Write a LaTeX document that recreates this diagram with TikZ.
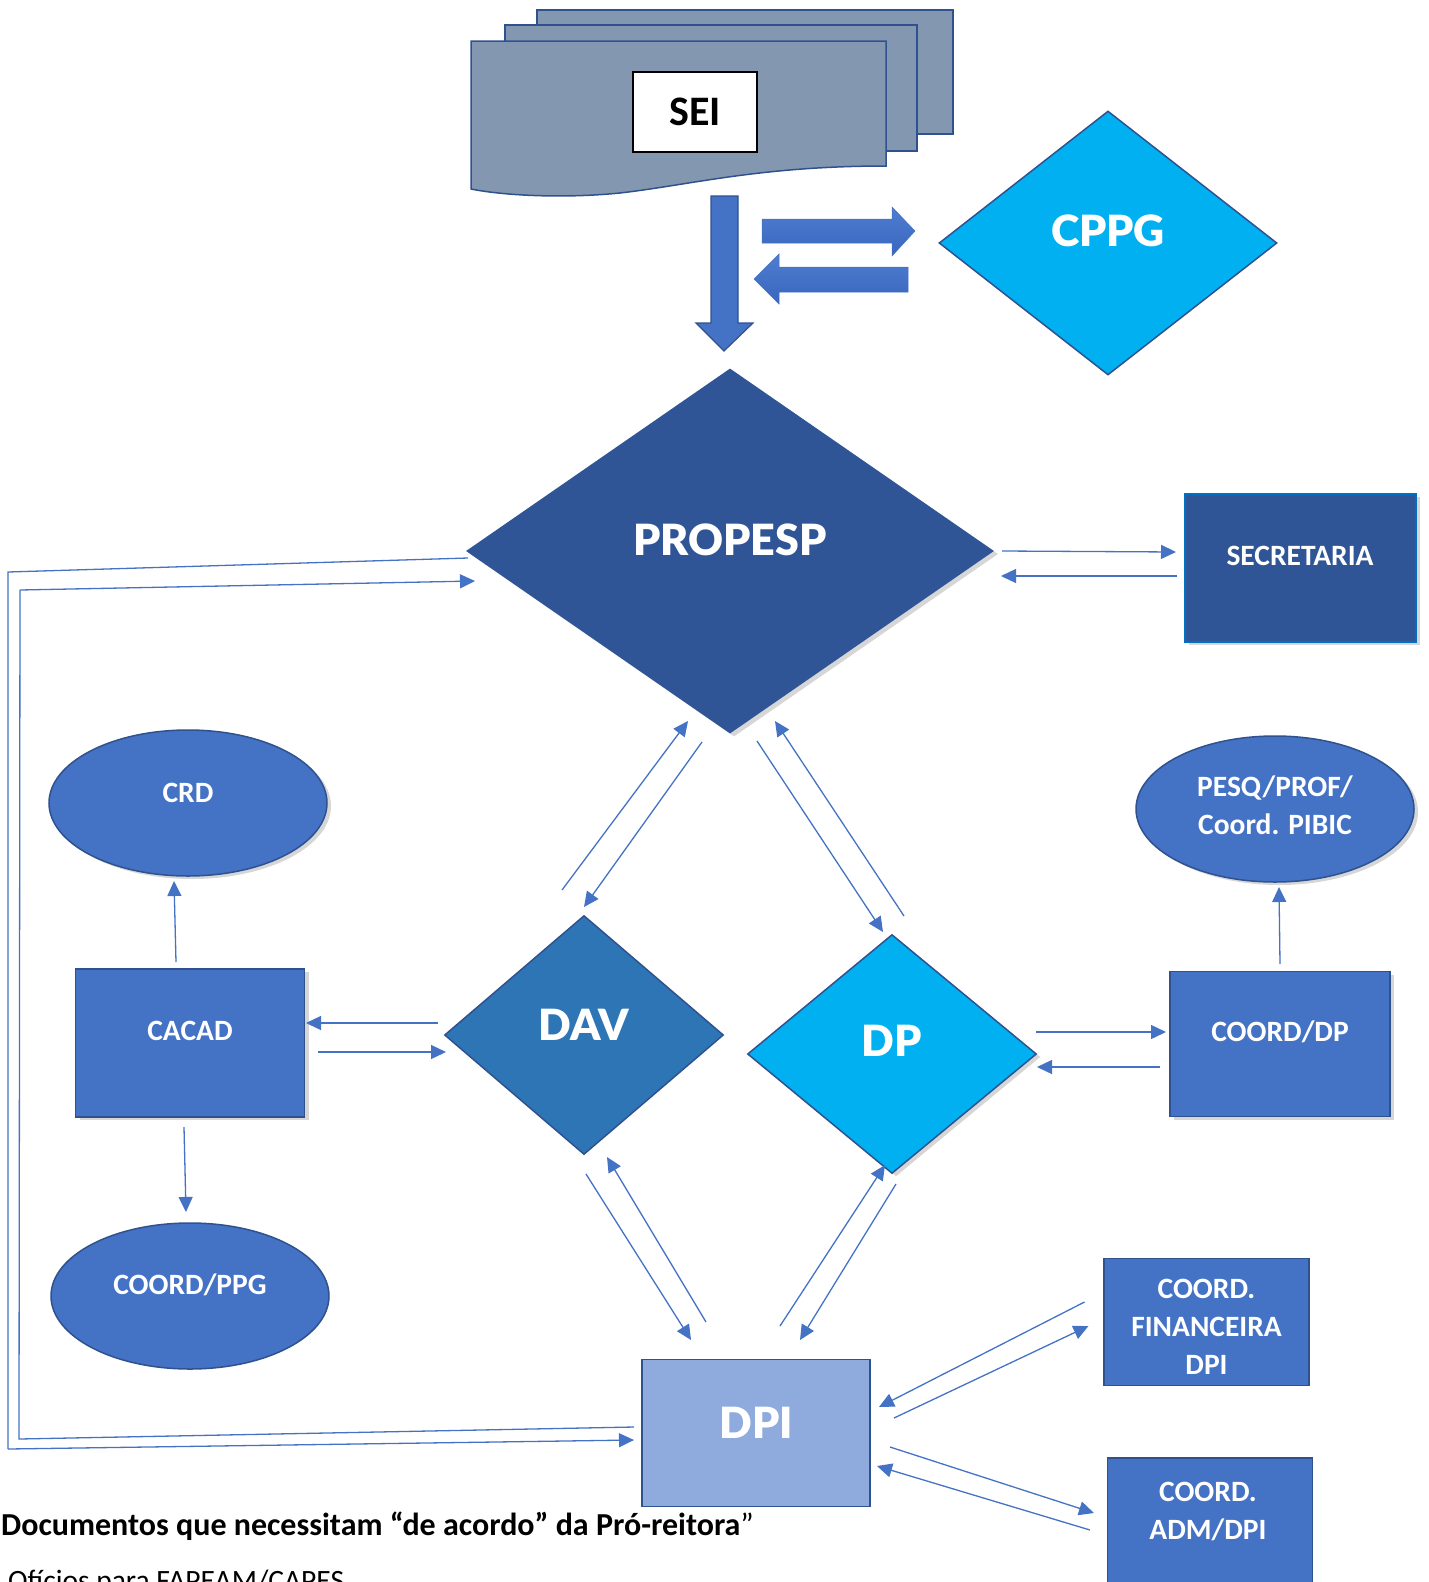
\documentclass[tikz,border=0pt]{standalone}
\usepackage{fontspec}
\setmainfont{Carlito}
\IfFontExistsTF{FiraSans-Heavy.otf}{\newfontfamily\heavyfont{FiraSans-Heavy.otf}}{%
  \IfFontExistsTF{FiraSans-ExtraBold.otf}{\newfontfamily\heavyfont{FiraSans-ExtraBold.otf}}{%
    \IfFontExistsTF{Lato Black}{\newfontfamily\heavyfont{Lato Black}}{%
      \newfontfamily\heavyfont{Fira Sans}[UprightFont=* Bold]}}}
\usetikzlibrary{shapes.geometric,arrows.meta,shadows,calc}
\definecolor{accent}{HTML}{4472C4}
\definecolor{bordblue}{HTML}{2F528F}
\definecolor{propblue}{HTML}{2F5597}
\definecolor{cyanb}{HTML}{00B0F0}
\definecolor{davblue}{HTML}{2E75B6}
\definecolor{dpiblue}{HTML}{8FAADC}
\definecolor{brightblue}{HTML}{0070C0}
\definecolor{pagegrey}{HTML}{8497B0}
\definecolor{arrtop}{HTML}{4D7DD0}
\definecolor{arrbot}{HTML}{3A66BE}
\begin{document}
\begin{tikzpicture}[x=1pt,y=-1pt,
  lbl/.style={text=white, font=\fontsize{29.5}{38}\selectfont\bfseries, align=center, inner sep=0pt},
  hv/.style={text=white, font=\fontsize{43}{48}\selectfont\heavyfont, inner sep=0pt},
  shad/.style={drop shadow={shadow xshift=4pt,shadow yshift=-3pt,opacity=.16,fill=black}},
  boxnode/.style={rectangle, fill=accent, draw=bordblue, line width=1.5pt, inner sep=0pt},
  ellnode/.style={ellipse, fill=accent, draw=bordblue, line width=1.5pt, inner sep=0pt, minimum width=278pt, minimum height=146pt},
  dia/.style={diamond, inner sep=0pt},
  conn/.style={draw=accent, line width=1.3pt, -{Triangle[length=15pt,width=14pt]}},
  plainline/.style={draw=accent, line width=1.3pt},
  pagestyle/.style={fill=pagegrey, draw=bordblue, line width=1.5pt},
  blockarrow/.style={top color=arrtop, bottom color=arrbot, draw=accent, line width=0.5pt}
]
\useasboundingbox (0,0) rectangle (1429,1582);

% ---------- SEI document stack ----------
\draw[pagestyle] (537,10) rectangle (953,134);
\draw[pagestyle] (505,25) rectangle (917,151);
\draw[pagestyle] (471,41) -- (886,41) -- (886,166)
   .. controls (760,166) and (690,185) .. (620,193)
   .. controls (560,199) and (500,195) .. (471,189) -- cycle;
\node[draw=black, fill=white, line width=1.2pt, minimum width=124pt, minimum height=80pt, inner sep=0pt,
      font=\fontsize{42}{46}\selectfont\bfseries] (sei) at (695,112) {SEI};

% ---------- block arrows ----------
\draw[fill=accent, draw=bordblue, line width=1.2pt] (711,196) -- (738,196) -- (738,323) -- (753,323) -- (724,351) -- (696,323) -- (711,323) -- cycle;
\draw[blockarrow] (762,219) -- (892,219) -- (892,207) -- (915,231) -- (892,256) -- (892,243) -- (762,243) -- cycle;
\draw[blockarrow] (908,267) -- (779,267) -- (779,254) -- (754,279) -- (779,304) -- (779,292) -- (908,292) -- cycle;

% ---------- nodes ----------
\node[dia, fill=cyanb, draw=bordblue, line width=1.5pt, minimum width=338pt, minimum height=264pt,
      label={[hv,yshift=12pt]center:CPPG}] (cppg) at (1108,243) {};
\node[dia, fill=propblue, minimum width=528pt, minimum height=365pt, shad,
      label={[hv,yshift=11pt]center:PROPESP}] (propesp) at (730,551) {};
\node[rectangle, fill=propblue, draw=brightblue, line width=2pt, minimum width=231pt, minimum height=148pt, shad,
      label={[lbl,yshift=12pt]center:SECRETARIA}] (secretaria) at (1300,568) {};
\node[ellnode, shad, label={[lbl,yshift=10pt]center:CRD}] (crd) at (188,803) {};
\node[ellnode, shad, label={[lbl,yshift=4pt]center:PESQ/PROF/\\Coord. PIBIC}] (pesq) at (1275,809) {};
\node[boxnode, shad, minimum width=229pt, minimum height=148pt,
      label={[lbl,yshift=12pt]center:CACAD}] (cacad) at (190,1043) {};
\node[ellnode, label={[lbl,yshift=11pt]center:COORD/PPG}] (coordppg) at (190,1296) {};
\node[dia, fill=davblue, draw=bordblue, line width=1.5pt, minimum width=279pt, minimum height=239pt,
      label={[hv,yshift=10pt]center:DAV}] (dav) at (584,1035) {};
\node[dia, fill=cyanb, draw=bordblue, line width=1.5pt, minimum width=289pt, minimum height=239pt, shad,
      label={[hv,yshift=13pt]center:DP}] (dp) at (892,1054) {};
\node[boxnode, shad, minimum width=220pt, minimum height=145pt,
      label={[lbl,yshift=12pt]center:COORD/DP}] (coorddp) at (1280,1044) {};
\node[boxnode, fill=dpiblue, minimum width=228pt, minimum height=147pt,
      label={[hv,yshift=10pt]center:DPI}] (dpi) at (756,1433) {};
\node[boxnode, minimum width=205pt, minimum height=127pt,
      label={[lbl,yshift=-5pt]center:COORD.\\FINANCEIRA\\DPI}] (fin) at (1206.5,1322) {};
\node[boxnode, minimum width=205pt, minimum height=142pt,
      label={[lbl,xshift=-2pt,yshift=18pt]center:COORD.\\ADM/DPI}] (adm) at (1210,1529) {};

% ---------- connectors ----------
\draw[conn] ($(propesp.center)+(272,0)$) -- ($(secretaria.center)+(-124,-16)$);
\draw[conn] ($(secretaria.center)+(-123,8)$) -- ($(propesp.center)+(271,25)$);

\draw[conn] ($(dav.center)+(-22,-145)$) -- ($(propesp.center)+(-42,170)$);
\draw[conn] ($(propesp.center)+(-28,191)$) -- ($(dav.center)+(0,-128)$);
\draw[conn] ($(propesp.center)+(27,190)$) -- ($(dp.center)+(-9,-122)$);
\draw[conn] ($(dp.center)+(12,-138)$) -- ($(propesp.center)+(45,170)$);

\draw[conn] ($(dav.center)+(-146,-12)$) -- ($(cacad.center)+(116,-20)$);
\draw[conn] ($(cacad.center)+(128,9)$) -- ($(dav.center)+(-138,17)$);
\draw[conn] ($(dp.center)+(144,-22)$) -- ($(coorddp.center)+(-114,-12)$);
\draw[conn] ($(coorddp.center)+(-120,23)$) -- ($(dp.center)+(145,13)$);

\draw[conn] ($(cacad.center)+(-14,-81)$) -- ($(crd.center)+(-14,78)$);
\draw[conn] ($(cacad.center)+(-6,84)$) -- ($(coordppg.center)+(-4,-84)$);
\draw[conn] ($(coorddp.center)+(0,-80)$) -- ($(pesq.center)+(4,78)$);

\draw[conn] ($(dav.center)+(2,139)$) -- ($(dpi.center)+(-65,-93)$);
\draw[conn] ($(dpi.center)+(-50,-111)$) -- ($(dav.center)+(23,122)$);
\draw[conn] ($(dpi.center)+(24,-107)$) -- ($(dp.center)+(-7,111)$);
\draw[conn] ($(dp.center)+(4,130)$) -- ($(dpi.center)+(44,-93)$);

\draw[conn] ($(fin.center)+(-122,-20)$) -- ($(dpi.center)+(123,-26)$);
\draw[conn] ($(dpi.center)+(138,-15)$) -- ($(fin.center)+(-118,4)$);
\draw[conn] ($(dpi.center)+(134,14)$) -- ($(adm.center)+(-116,-16)$);
\draw[conn] ($(adm.center)+(-120,1)$) -- ($(dpi.center)+(121,33)$);

% long left routes
\coordinate (o1) at (8,572);
\coordinate (o2) at (8,1449);
\coordinate (i1) at (19,1439);
\coordinate (i2) at (20,590);
\draw[plainline] ($(propesp.center)+(-262,7)$) -- (o1) -- (o2);
\draw[conn] (o2) -- ($(dpi.center)+(-122,7)$);
\draw[plainline] ($(dpi.center)+(-122,-6)$) -- (i1) -- (i2);
\draw[conn] (i2) -- ($(propesp.center)+(-255,30)$);

% ---------- bottom text ----------
\node[anchor=base west, inner sep=0pt, font=\fontsize{32}{38}\selectfont\bfseries] (doctext) at (1,1535)
  {Documentos que necessitam “de acordo” da Pró-reitora{\mdseries ”}};
\node[anchor=base west, inner sep=0pt, font=\fontsize{29.5}{36}\selectfont] (oftext) at (8,1590)
  {Ofícios para FAPEAM/CAPES};
\end{tikzpicture}
\end{document}
